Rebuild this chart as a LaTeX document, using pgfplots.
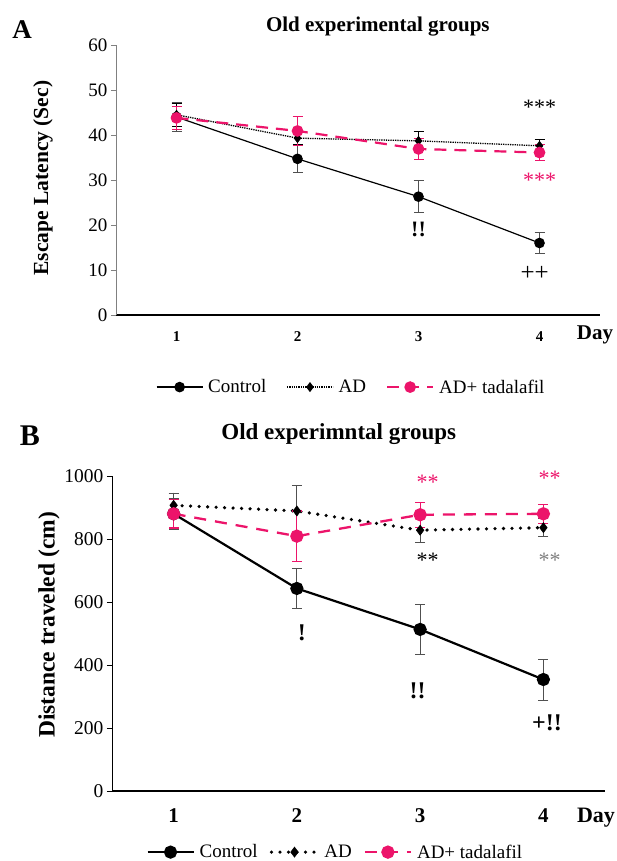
\documentclass[border=0pt]{standalone}
\usepackage{fontspec}
\setmainfont{Liberation Serif}
\usepackage{pgfplots}
\pgfplotsset{compat=1.18}
\definecolor{adpink}{RGB}{236,20,106}
\definecolor{errgray}{RGB}{80,80,80}

\newcommand{\fs}[1]{\fontsize{#1}{#1}\selectfont}

\pgfplotsset{
  panel/.style={
    scale only axis, xmin=0.5, xmax=4.5, xtick={1,2,3,4},
    axis x line*=bottom, axis y line*=left,
    tick align=outside, major tick length=5pt,
    xtick style={draw=none},
    /pgf/number format/assume math mode=true,
    /pgf/number format/1000 sep={},
    clip=false,
    legend columns=-1,
    legend style={draw=none, fill=none, anchor=center, font=\fs{19},
      /tikz/every odd column/.append style={column sep=3pt},
      /tikz/every even column/.append style={column sep=18pt}},
    ylabel style={anchor=center},
    title style={anchor=center, yshift=0pt},
  },
  sample/.style={legend image code/.code={%
    \draw[mark repeat=2,mark phase=2,##1] plot coordinates {(0pt,0pt)(23pt,0pt)(46pt,0pt)};}},
}

\begin{document}
\begin{tikzpicture}
\useasboundingbox (0,0) rectangle (617pt,-861pt);

% ---------------- panel A ----------------
\begin{axis}[panel,
  at={(116pt,-315pt)}, anchor=south west,
  width=484pt, height=270pt,
  ymin=0, ymax=60, ytick={0,10,...,60},
  y axis line style={draw=gray},
  ytick style={draw=gray},
  x axis line style={black, line width=1.3pt},
  yticklabel style={font=\fs{19}},
  xticklabel style={font=\bfseries\fs{15}, yshift=-8pt},
  xticklabels={1,2,3,4},
  title={Old experimental groups},
  title style={at={(axis description cs:0.541,1.045)}, font=\bfseries\fs{21}},
  ylabel={Escape Latency (Sec)},
  ylabel style={at={(axis description cs:-0.151,0.507)}, font=\bfseries\fs{21.5}},
  legend style={at={(axis description cs:0.486,-0.267)}},
]
\addplot[black, line width=1.2pt, mark=*, mark size=4.7pt, sample,
  error bars/.cd, y dir=both, y explicit,
  error bar style={errgray, line width=0.9pt},
  error mark options={errgray, rotate=90, mark size=5pt, line width=0.9pt}]
  coordinates {(1,44.0) +- (0,3.3) (2,34.7) +- (0,3.1) (3,26.3) +- (0,3.5) (4,16.0) +- (0,2.3)};
\addlegendentry{Control}
\addplot[black, line width=1.3pt, densely dotted, mark=diamond*, mark size=4pt,
  mark options={solid}, sample,
  error bars/.cd, y dir=both, y explicit,
  error bar style={black, line width=0.9pt, solid},
  error mark options={black, rotate=90, mark size=5pt, line width=0.9pt}]
  coordinates {(1,44.5) +- (0,2.5) (2,39.3) +- (0,1.5) (3,38.7) +- (0,2.2) (4,37.6) +- (0,1.4)};
\addlegendentry{AD}
\addplot[adpink, line width=2.2pt, dash pattern=on 12pt off 8pt, mark=*, mark size=4.7pt,
  mark options={solid}, sample,
  error bars/.cd, y dir=both, y explicit,
  error bar style={adpink, line width=1.1pt, solid},
  error mark options={adpink, rotate=90, mark size=5pt, line width=1.1pt}]
  coordinates {(1,43.8) +- (0,2.5) (2,40.9) +- (0,3.3) (3,36.9) +- (0,2.3) (4,36.1) +- (0,1.8)};
\addlegendentry{AD+ tadalafil}
\node[font=\fs{22}] at (axis cs:4,46.2) {***};
\node[font=\fs{22}, text=adpink] at (axis cs:4,30.0) {***};
\node[font=\bfseries\fs{22}] at (axis cs:3,19.1) {!!};
\node[font=\fs{25}] at (axis cs:3.96,9.3) {++};
\end{axis}

% ---------------- panel B ----------------
\begin{axis}[panel,
  at={(112pt,-791pt)}, anchor=south west,
  width=493pt, height=315pt,
  ymin=0, ymax=1000, ytick={0,200,...,1000},
  y axis line style={black, line width=0.9pt},
  ytick style={black, line width=0.9pt},
  x axis line style={black, line width=1.6pt},
  yticklabel style={font=\fs{19.5}},
  xticklabel style={font=\bfseries\fs{21}, yshift=-9pt},
  xticklabels={1,2,3,4},
  title={Old experimntal groups},
  title style={at={(axis description cs:0.460,1.115)}, font=\bfseries\fs{23}},
  ylabel={Distance traveled (cm)},
  ylabel style={at={(axis description cs:-0.128,0.527)}, font=\bfseries\fs{23.5}},
  legend style={at={(axis description cs:0.453,-0.194)},
    /tikz/every even column/.append style={column sep=10pt}},
]
\addplot[black, line width=2.2pt, mark=*, mark size=5.5pt, sample,
  error bars/.cd, y dir=both, y explicit,
  error bar style={errgray, line width=0.9pt},
  error mark options={errgray, rotate=90, mark size=5pt, line width=0.9pt}]
  coordinates {(1,880) +- (0,50) (2,643) +- (0,62) (3,513) +- (0,80) (4,354) +- (0,65)};
\addlegendentry{Control}
\addplot[black, line width=3.6pt, line cap=round, dash pattern=on 0pt off 8.5pt,
  mark=diamond*, mark size=5pt, mark options={solid, line width=0.6pt}, sample,
  error bars/.cd, y dir=both, y explicit,
  error bar style={errgray, line width=0.9pt, solid},
  error mark options={errgray, rotate=90, mark size=5pt, line width=0.9pt}]
  coordinates {(1,907) +- (0,38) (2,889) +- (0,80) (3,828) +- (0,38) (4,836) +- (0,28)};
\addlegendentry{AD}
\addplot[adpink, line width=2.3pt, dash pattern=on 12pt off 9pt, mark=*, mark size=5.5pt,
  mark options={solid}, sample,
  error bars/.cd, y dir=both, y explicit,
  error bar style={adpink, line width=1.2pt, solid},
  error mark options={adpink, rotate=90, mark size=5pt, line width=1.2pt}]
  coordinates {(1,880) +- (0,45) (2,809) +- (0,80) (3,877) +- (0,40) (4,880) +- (0,30)};
\addlegendentry{AD+ tadalafil}
\node[font=\fs{22}, text=adpink] at (axis cs:3.06,981) {**};
\node[font=\fs{22}, text=adpink] at (axis cs:4.05,993) {**};
\node[font=\fs{22}] at (axis cs:3.06,733) {**};
\node[font=\fs{22}, text=gray] at (axis cs:4.05,733) {**};
\node[font=\bfseries\fs{24}] at (axis cs:2.04,503) {!};
\node[font=\bfseries\fs{24}] at (axis cs:2.98,318) {!!};
\node[font=\bfseries\fs{24}] at (axis cs:4.03,217) {+!!};
\end{axis}

% panel letters and axis names at the right end
\node[font=\bfseries\fs{27}] at (22pt,-30pt) {A};
\node[font=\bfseries\fs{30}] at (30pt,-436pt) {B};
\node[font=\bfseries\fs{21}] at (595pt,-335pt) {Day};
\node[font=\bfseries\fs{22}] at (596pt,-818pt) {Day};
\end{tikzpicture}
\end{document}
